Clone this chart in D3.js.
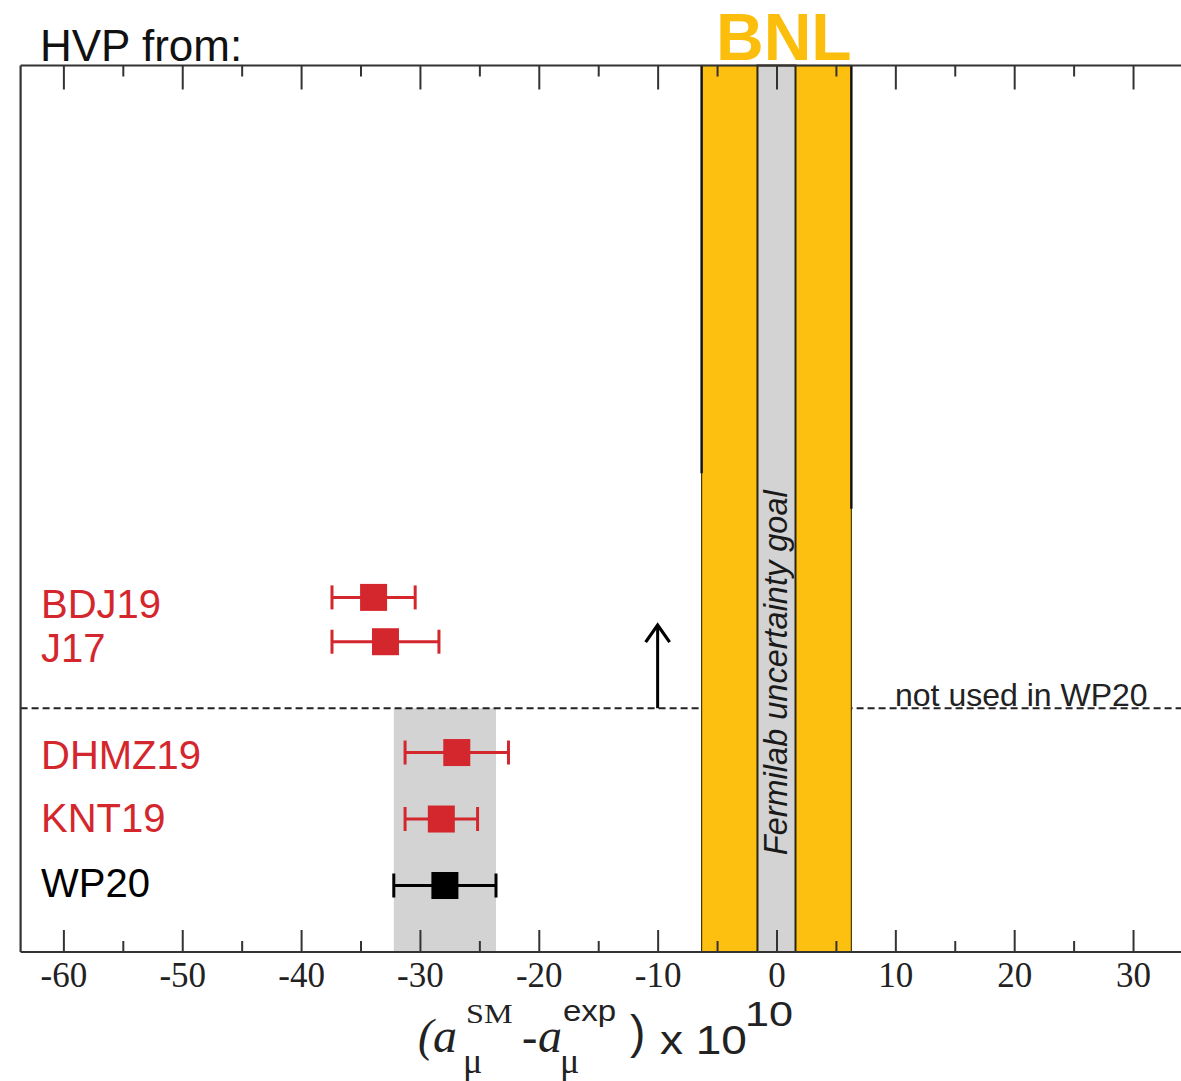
<!DOCTYPE html>
<html>
<head>
<meta charset="utf-8">
<script src="https://cdn.jsdelivr.net/npm/d3@7"></script>
<style>
  html, body { margin: 0; padding: 0; background: #fff; }
  svg { display: block; }
</style>
</head>
<body>
<div id="chart"></div>
<script>
// HVP determinations of a_mu(SM) - a_mu(exp), in units of 1e-10
const labels    = ["BDJ19", "J17", "DHMZ19", "KNT19", "WP20"];
const values    = [-33.9, -32.9, -26.9, -28.2, -27.9];
const errors    = [3.5, 4.5, 4.35, 3.05, 4.3];
const rows      = [16, 14, 9, 6, 3];
const labelRows = [15.7, 13.7, 8.9, 6.05, 3.1];
const combined  = "WP20";

// experimental bands
const bnlCenter    = 0;
const bnlError     = 6.3;
const fermilabGoal = 1.6;

// separator between entries used / not used in WP20
const separatorRow = 11;
const arrowX = -10;
const arrowTopRow = 14.75;

// axis ticks
const majorTicks = d3.range(-60, 31, 10);
const minorTicks = d3.range(-55, 36, 10);

const W = 1181, H = 1081;
const red = "#d4272d", yellow = "#fdbf10", axisColor = "#333";

const x = d3.scaleLinear().domain([-63.6, 36]).range([20.6, 20.6 + 99.6 * 11.885]);
const y = d3.scaleLinear().domain([0, 40]).range([952, 65.5]);

const svg = d3.select("#chart").append("svg")
  .attr("width", W).attr("height", H)
  .attr("viewBox", `0 0 ${W} ${H}`);

svg.append("rect").attr("width", W).attr("height", H).attr("fill", "#fff");

// WP20 band over the lower region
const wpIdx = labels.indexOf(combined);
svg.append("rect")
  .attr("x", x(values[wpIdx] - errors[wpIdx]))
  .attr("width", x(values[wpIdx] + errors[wpIdx]) - x(values[wpIdx] - errors[wpIdx]))
  .attr("y", y(separatorRow))
  .attr("height", y(0) - y(separatorRow))
  .attr("fill", "#d3d3d3");

// dashed separator
svg.append("line")
  .attr("x1", x.range()[0]).attr("x2", W)
  .attr("y1", y(separatorRow)).attr("y2", y(separatorRow))
  .attr("stroke", "#222").attr("stroke-width", 2)
  .attr("stroke-dasharray", "7,4");

svg.append("text")
  .attr("x", 895).attr("y", y(separatorRow) - 2)
  .attr("font-family", "Liberation Sans, Arial, sans-serif")
  .attr("font-size", 32).attr("fill", "#222")
  .text("not used in WP20");

// arrow pointing to the entries above the separator
const ax = x(arrowX), ay0 = y(separatorRow), ay1 = y(arrowTopRow);
svg.append("line")
  .attr("x1", ax).attr("x2", ax).attr("y1", ay0).attr("y2", ay1 + 1)
  .attr("stroke", "#000").attr("stroke-width", 3);
svg.append("path")
  .attr("d", `M${ax - 12},${ay1 + 17} L${ax},${ay1} L${ax + 12},${ay1 + 17}`)
  .attr("fill", "none").attr("stroke", "#000").attr("stroke-width", 3.2)
  .attr("stroke-linejoin", "miter");

// BNL band and Fermilab goal band
const yTop = y(40), yBot = y(0);
svg.append("rect")
  .attr("x", x(bnlCenter - bnlError)).attr("y", yTop)
  .attr("width", x(bnlCenter + bnlError) - x(bnlCenter - bnlError))
  .attr("height", yBot - yTop)
  .attr("fill", yellow).attr("stroke", "#4a3808").attr("stroke-width", 1.2);
svg.append("rect")
  .attr("x", x(bnlCenter - fermilabGoal)).attr("y", yTop)
  .attr("width", x(bnlCenter + fermilabGoal) - x(bnlCenter - fermilabGoal))
  .attr("height", yBot - yTop)
  .attr("fill", "#d3d3d3").attr("stroke", "#2c2510").attr("stroke-width", 2);

// heavier outline on the upper part of the BNL band edges
[[bnlCenter - bnlError, 21.6], [bnlCenter + bnlError, 20.0]].forEach(([v, r]) => {
  svg.append("line")
    .attr("x1", x(v)).attr("x2", x(v)).attr("y1", yTop).attr("y2", y(r))
    .attr("stroke", "#111").attr("stroke-width", 2.4);
});

svg.append("text")
  .attr("transform", `translate(${x(bnlCenter) + 11},${y(12.6)}) rotate(-90)`)
  .attr("text-anchor", "middle")
  .attr("font-family", "Liberation Sans, Arial, sans-serif")
  .attr("font-style", "italic")
  .attr("font-size", 32.5).attr("fill", "#1a1a1a")
  .text("Fermilab uncertainty goal");

// axes
const axisB = svg.append("g").attr("transform", `translate(0,${y(0)})`)
  .call(d3.axisBottom(x).tickValues(majorTicks).tickSize(-22).tickFormat(d => String(d)));
axisB.select(".domain").remove();
axisB.selectAll(".tick line").attr("stroke", axisColor).attr("stroke-width", 2);
axisB.selectAll(".tick text")
  .attr("y", 35).attr("dy", 0)
  .attr("font-family", "Liberation Serif, Times New Roman, serif")
  .attr("font-size", 35).attr("fill", "#222");

const axisBMinor = svg.append("g").attr("transform", `translate(0,${y(0)})`)
  .call(d3.axisBottom(x).tickValues(minorTicks).tickSize(-11).tickFormat(""));
axisBMinor.select(".domain").remove();
axisBMinor.selectAll(".tick line").attr("stroke", axisColor).attr("stroke-width", 2);

const axisT = svg.append("g").attr("transform", `translate(0,${y(40)})`)
  .call(d3.axisTop(x).tickValues(majorTicks).tickSize(-24).tickFormat(""));
axisT.select(".domain").remove();
axisT.selectAll(".tick line").attr("stroke", axisColor).attr("stroke-width", 2);

const axisTMinor = svg.append("g").attr("transform", `translate(0,${y(40)})`)
  .call(d3.axisTop(x).tickValues(minorTicks).tickSize(-11).tickFormat(""));
axisTMinor.select(".domain").remove();
axisTMinor.selectAll(".tick line").attr("stroke", axisColor).attr("stroke-width", 2);

// frame lines
svg.append("line").attr("x1", x.range()[0]).attr("x2", W).attr("y1", y(0)).attr("y2", y(0))
  .attr("stroke", axisColor).attr("stroke-width", 2.2);
svg.append("line").attr("x1", x.range()[0]).attr("x2", W).attr("y1", y(40)).attr("y2", y(40))
  .attr("stroke", axisColor).attr("stroke-width", 2.2);
svg.append("line").attr("x1", x.range()[0]).attr("x2", x.range()[0]).attr("y1", y(40)).attr("y2", y(0))
  .attr("stroke", axisColor).attr("stroke-width", 2.2);

// points with horizontal error bars
const pts = svg.append("g").selectAll("g").data(labels).join("g")
  .attr("fill", d => d === combined ? "#000" : red)
  .attr("stroke", d => d === combined ? "#000" : red);

const capH = 12, sq = 27;
pts.append("line")
  .attr("x1", (d, i) => x(values[i] - errors[i])).attr("x2", (d, i) => x(values[i] + errors[i]))
  .attr("y1", (d, i) => y(rows[i])).attr("y2", (d, i) => y(rows[i]))
  .attr("stroke-width", 3);
pts.append("line")
  .attr("x1", (d, i) => x(values[i] - errors[i])).attr("x2", (d, i) => x(values[i] - errors[i]))
  .attr("y1", (d, i) => y(rows[i]) - capH).attr("y2", (d, i) => y(rows[i]) + capH)
  .attr("stroke-width", 3);
pts.append("line")
  .attr("x1", (d, i) => x(values[i] + errors[i])).attr("x2", (d, i) => x(values[i] + errors[i]))
  .attr("y1", (d, i) => y(rows[i]) - capH).attr("y2", (d, i) => y(rows[i]) + capH)
  .attr("stroke-width", 3);
pts.append("rect")
  .attr("x", (d, i) => x(values[i]) - sq / 2).attr("y", (d, i) => y(rows[i]) - sq / 2)
  .attr("width", sq).attr("height", sq).attr("stroke", "none");

// entry labels
svg.append("g").selectAll("text").data(labels).join("text")
  .attr("x", 41).attr("y", (d, i) => y(labelRows[i])).attr("dy", "0.35em")
  .attr("font-family", "Liberation Sans, Arial, sans-serif")
  .attr("font-size", 40)
  .attr("fill", d => d === combined ? "#000" : red)
  .text(d => d);

// headings
svg.append("text").attr("x", 40).attr("y", 61)
  .attr("font-family", "Liberation Sans, Arial, sans-serif")
  .attr("font-size", 44).attr("fill", "#111").text("HVP from:");
svg.append("text").attr("x", 716).attr("y", 60)
  .attr("font-family", "Liberation Sans, Arial, sans-serif")
  .attr("font-weight", "bold")
  .attr("font-size", 66).attr("fill", "#fcbe0d").text("BNL");

// axis title: (a_mu^SM - a_mu^exp) x 10^10, set piece by piece
const serif = "Liberation Serif, Times New Roman, serif";
const sans = "Liberation Sans, Arial, sans-serif";
const titleParts = [
  { t: "(",    x: 418, y: 1051, s: 46, f: serif, i: true, sx: 1 },
  { t: "a",    x: 433, y: 1052, s: 48, f: serif, i: true, sx: 1 },
  { t: "SM",   x: 466, y: 1023, s: 28, f: serif, sx: 1.15 },
  { t: "μ",    x: 463, y: 1073, s: 36, f: serif, sx: 1 },
  { t: "-",    x: 522, y: 1052, s: 46, f: serif, sx: 1 },
  { t: "a",    x: 538, y: 1052, s: 48, f: serif, i: true, sx: 1 },
  { t: "exp",  x: 563, y: 1021, s: 30, f: sans, sx: 1.1 },
  { t: "μ",    x: 560, y: 1073, s: 36, f: serif, sx: 1 },
  { t: ")",    x: 630, y: 1048, s: 46, f: sans, sx: 1 },
  { t: "x 10", x: 660, y: 1054, s: 40, f: sans, sx: 1.15 },
  { t: "10",   x: 745, y: 1026, s: 36, f: sans, sx: 1.2 }
];
const titleG = svg.append("g");
titleParts.forEach(p => {
  titleG.append("text")
    .attr("transform", `translate(${p.x},${p.y}) scale(${p.sx},1)`)
    .attr("font-family", p.f).attr("font-size", p.s)
    .attr("font-style", p.i ? "italic" : "normal")
    .attr("fill", "#222").text(p.t);
});
</script>
</body>
</html>
